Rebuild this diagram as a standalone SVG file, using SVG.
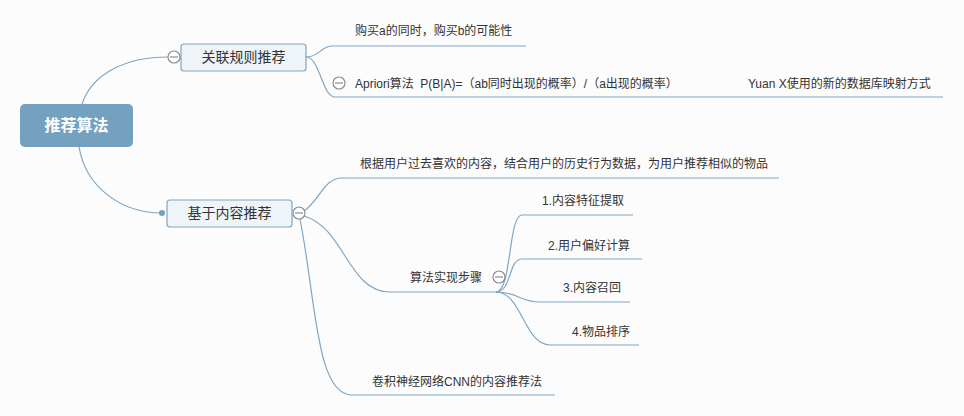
<svg xmlns="http://www.w3.org/2000/svg" width="964" height="416" viewBox="0 0 964 416">
<style>
text{font-family:"Liberation Sans","Noto Sans CJK SC",sans-serif;fill:#333;font-size:12px;white-space:pre}
.conn path{fill:none;stroke:#7fa6c4;stroke-width:1.2}
.topic{fill:#eef4f8;stroke:#7fa6c4;stroke-width:1.2}
.tt{font-size:14px;text-anchor:middle}
.col circle{fill:#fff;stroke:#8c8c8c;stroke-width:1.2}
.col line{stroke:#8c8c8c;stroke-width:1.2}
</style>
<rect width="964" height="416" fill="#fcfcfd"/>
<g class="conn" id="connectors">
<path d="M82,104 C92,74 125,57 168,57"/>
<path d="M79,147 C86,188 122,213 162,213"/>
<path d="M306,57 C320,57 320,46 333,46 L526,46"/>
<path d="M306,57 C320,57 322,97 335,97 L943,97"/>
<path d="M304,211 C320,200 324,178 342,178 L779,178"/>
<path d="M304,216 C345,228 348,292 390,292 L497,292"/>
<path d="M300,219 C316,300 316,395 352,395 L555,395"/>
<path d="M496,292 C512,292 508,215 522,215 L633,215"/>
<path d="M496,292 C512,292 508,259 522,259 L642,259"/>
<path d="M496,292 C518,292 520,302 540,302 L630,302"/>
<path d="M496,292 C522,292 524,345 550,345 L639,345"/>
</g>
<g id="root">
<rect x="20" y="104" width="113" height="43" rx="5" fill="#73a1bf"/>
<text x="76.5" y="131" style="font-size:16px;fill:#fff;text-anchor:middle;font-weight:bold">推荐算法</text>
</g>
<g id="node-assoc">
<rect class="topic" x="181" y="44" width="125" height="27" rx="3"/>
<text class="tt" x="243.5" y="62">关联规则推荐</text>
<g class="col"><circle cx="174" cy="57" r="6"/><line x1="170" y1="57" x2="178" y2="57"/></g>
</g>
<g id="node-content">
<rect class="topic" x="167" y="200" width="125" height="27" rx="3"/>
<text class="tt" x="229.5" y="218">基于内容推荐</text>
<circle cx="162" cy="213" r="3" fill="#73a1bf"/>
<g class="col"><circle cx="299" cy="213" r="6"/><line x1="295" y1="213" x2="303" y2="213"/></g>
</g>
<g id="leaf-buy"><text x="355" y="35">购买a的同时，购买b的可能性</text></g>
<g id="leaf-apriori">
<g class="col"><circle cx="339" cy="83" r="6"/><line x1="335" y1="83" x2="343" y2="83"/></g>
<text x="355" y="88">Apriori算法  P(B|A)=（ab同时出现的概率）/（a出现的概率）</text>
</g>
<g id="leaf-yuan"><text x="748" y="88">Yuan X使用的新的数据库映射方式</text></g>
<g id="leaf-desc"><text x="360" y="168">根据用户过去喜欢的内容，结合用户的历史行为数据，为用户推荐相似的物品</text></g>
<g id="node-steps">
<text x="410" y="282">算法实现步骤</text>
<g class="col"><circle cx="499" cy="277" r="6"/><line x1="495" y1="277" x2="503" y2="277"/></g>
</g>
<g id="step1"><text x="542" y="205">1.内容特征提取</text></g>
<g id="step2"><text x="548" y="250">2.用户偏好计算</text></g>
<g id="step3"><text x="563" y="292">3.内容召回</text></g>
<g id="step4"><text x="572" y="336">4.物品排序</text></g>
<g id="leaf-cnn"><text x="372" y="386">卷积神经网络CNN的内容推荐法</text></g>
</svg>
